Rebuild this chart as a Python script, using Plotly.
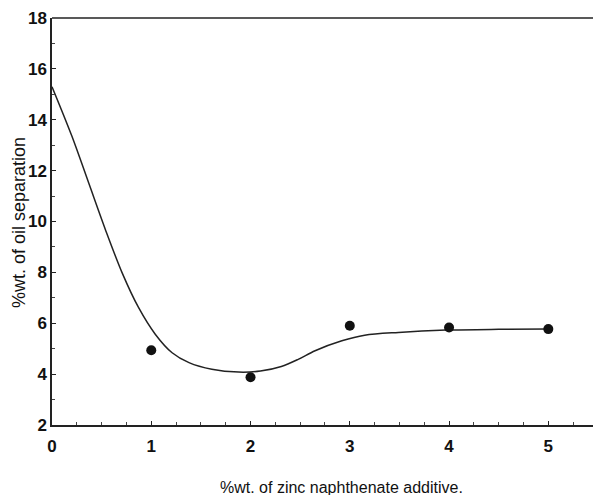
import plotly.graph_objects as go

# Measured data points
x_points = [1, 2, 3, 4, 5]
y_points = [4.94, 3.88, 5.90, 5.83, 5.77]

# Fitted curve
x_curve = [0, 0.2, 0.37, 0.54, 0.71, 0.87, 1.04, 1.21, 1.38, 1.61, 1.88, 2.1, 2.31, 2.48, 2.65, 2.92, 3.15, 3.49, 3.97, 4.5, 5.0]
y_curve = [15.3, 13.36, 11.51, 9.66, 7.95, 6.63, 5.57, 4.84, 4.45, 4.19, 4.08, 4.12, 4.30, 4.58, 4.92, 5.31, 5.53, 5.64, 5.73, 5.76, 5.77]

x_ticks = [0, 1, 2, 3, 4, 5]
y_ticks = [2, 4, 6, 8, 10, 12, 14, 16, 18]

x_title = "%wt. of zinc naphthenate additive."
y_title = "%wt. of oil separation"

narrow = "Liberation Sans Narrow, Arial Narrow, Liberation Sans, Arial"
tick_font = dict(family=narrow, size=17, color="#111", weight="bold")

fig = go.Figure()
fig.add_trace(go.Scatter(x=x_curve, y=y_curve, mode="lines",
                         line=dict(color="#222", width=1.5, shape="spline", smoothing=0.9),
                         showlegend=False, hoverinfo="skip"))
fig.add_trace(go.Scatter(x=x_points, y=y_points, mode="markers",
                         marker=dict(color="#111", size=10, symbol="circle"),
                         showlegend=False))

L, R, T, B = 52, 0, 18, 70
W, H = 593, 495
pw = W - L - R
ph = H - T - B

fig.update_layout(
    template="none",
    width=W, height=H,
    margin=dict(l=L, r=R, t=T, b=B),
    paper_bgcolor="white", plot_bgcolor="rgba(0,0,0,0)",
    xaxis=dict(range=[0, 5.45], tickvals=x_ticks, ticktext=[str(v) for v in x_ticks],
               showgrid=False, zeroline=False, showline=True, linecolor="#222", linewidth=1.5,
               mirror=False, ticks="inside", ticklen=4, tickcolor="#222",
               minor=dict(dtick=0.25, ticks="inside", ticklen=3, tickcolor="#444", showgrid=False),
               tickfont=tick_font, ticklabelstandoff=5),
    yaxis=dict(range=[2, 18], tickvals=y_ticks, ticktext=[str(v) for v in y_ticks],
               showgrid=False, zeroline=False, showline=True, linecolor="#222", linewidth=1.5,
               mirror=False, ticks="inside", ticklen=4, tickcolor="#222",
               minor=dict(dtick=1, ticks="inside", ticklen=3, tickcolor="#444", showgrid=False),
               tickfont=tick_font, ticklabelstandoff=0),
    shapes=[dict(type="line", xref="paper", yref="paper", x0=0, x1=1, y0=1, y1=1,
                 line=dict(color="#222", width=1.5))],
    annotations=[
        dict(text=x_title, x=(341 - L) / pw, y=-(487 - (H - B)) / ph, xref="paper", yref="paper",
             xanchor="center", yanchor="middle", showarrow=False,
             font=dict(family=narrow, size=16, color="#111")),
        dict(text=y_title, x=(19 - L) / pw, y=1 - (223 - T) / ph, xref="paper", yref="paper",
             xanchor="center", yanchor="middle", showarrow=False, textangle=-90,
             font=dict(family="Liberation Sans, Arial", size=18, color="#111")),
    ],
)

fig.write_html("out.html", config={"displayModeBar": False})
